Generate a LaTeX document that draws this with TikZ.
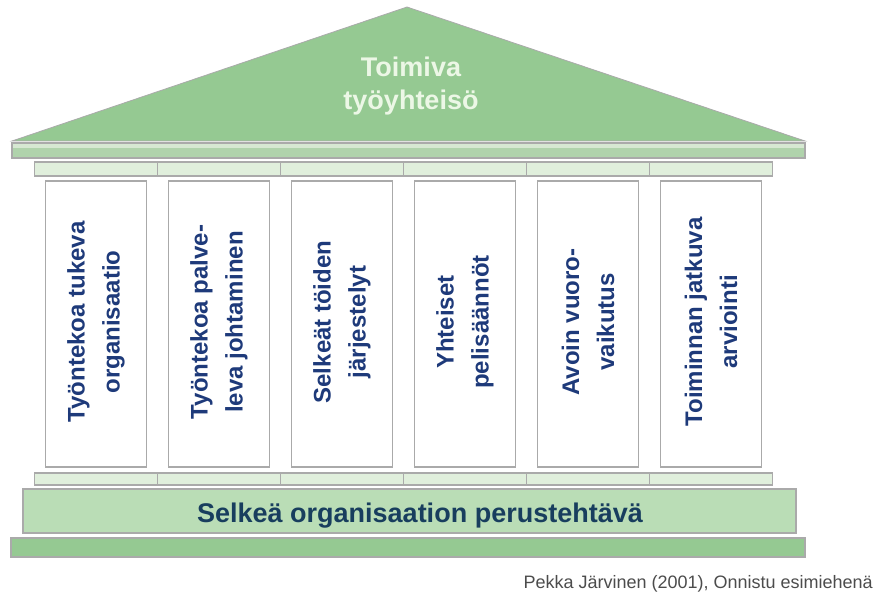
\documentclass[tikz,border=0pt]{standalone}
\usepackage{fontspec}
\setmainfont{Liberation Sans}
\usepackage{xcolor}
\usetikzlibrary{positioning}

\definecolor{roofgreen}{RGB}{149,201,146}
\definecolor{beamgreen}{RGB}{176,211,172}
\definecolor{beamlight}{RGB}{214,232,210}
\definecolor{capgreen}{RGB}{224,239,220}
\definecolor{basegreen}{RGB}{186,221,182}
\definecolor{edgegray}{RGB}{170,170,170}
\definecolor{pillarblue}{RGB}{30,58,122}
\definecolor{basenavy}{RGB}{24,62,94}
\definecolor{rooftext}{RGB}{236,247,230}

\begin{document}
\begin{tikzpicture}[x=1pt, y=-1pt,
  frame/.style={draw=edgegray, line width=1.2pt},
  colbox/.style={frame, fill=white, minimum width=101pt, minimum height=286pt, inner sep=0pt},
  capbox/.style={frame, fill=capgreen, minimum width=123pt, inner sep=0pt},
  coltext/.style={rotate=90, text=pillarblue, align=center, font=\bfseries\fontsize{24}{35}\selectfont}]
\useasboundingbox (0,0) rectangle (875,612);

% roof and beam
\filldraw[frame, fill=roofgreen, line width=0.8pt] (12,141) -- (407,7) -- (805,141) -- cycle;
\filldraw[frame, fill=beamgreen] (12,143) rectangle (805,158);
\fill[beamlight] (12.6,143.6) rectangle (804.4,148);
\node[text=rooftext, align=center, inner sep=0pt, font=\bfseries\fontsize{27}{33}\selectfont] (roof) at (411,86) {Toimiva\\työyhteisö};

% pillars with their top and foot blocks
\foreach \i/\txt in {1/{Työntekoa tukeva\\organisaatio},
                     2/{Työntekoa palve-\\leva johtaminen},
                     3/{Selkeät töiden\\järjestelyt},
                     4/{Yhteiset\\pelisäännöt},
                     5/{Avoin vuoro-\\vaikutus},
                     6/{Toiminnan jatkuva\\arviointi}}
{
  \pgfmathsetmacro{\cx}{96+123*(\i-1)}
  \node[capbox, minimum height=14pt] (top\i) at (\cx,169) {};
  \node[capbox, minimum height=12pt] (foot\i) at (\cx,479) {};
  \node[colbox] (col\i) at (\cx,324) {};
  \node[coltext] (lbl\i) at (\cx,322) {\txt};
}

% base steps
\filldraw[frame, fill=basegreen] (23,489) rectangle (796,533);
\node[anchor=base, text=basenavy, inner sep=0pt, font=\bfseries\fontsize{27}{33}\selectfont] (task) at (420,522) {Selkeä organisaation perustehtävä};
\filldraw[frame, fill=roofgreen] (11,538) rectangle (805,557);

\node[anchor=base east, text=black!70, inner sep=0pt, font=\fontsize{18}{20}\selectfont] (src) at (873,588) {Pekka Järvinen (2001), Onnistu esimiehenä};
\end{tikzpicture}
\end{document}
